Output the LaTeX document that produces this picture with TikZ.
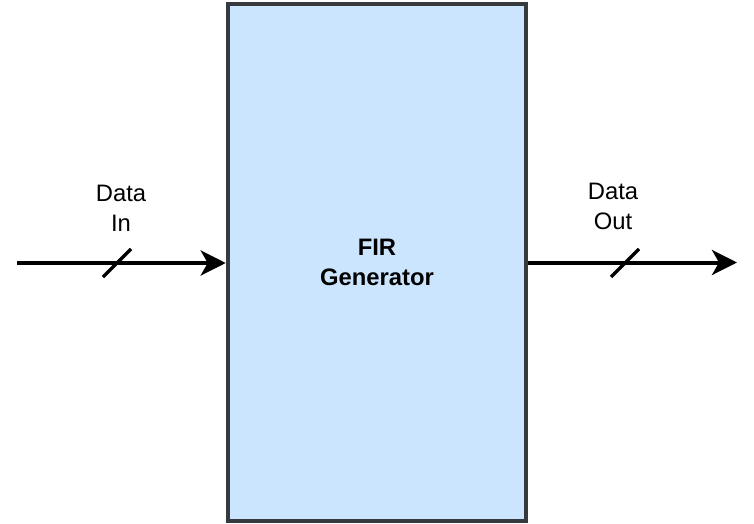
\documentclass[tikz,border=0pt]{standalone}
\usepackage{fontspec}
\setmainfont{Liberation Sans}
\usepackage{xcolor}
\usetikzlibrary{arrows.meta}
\definecolor{boxfill}{HTML}{CCE5FF}
\definecolor{boxline}{HTML}{36393D}
\tikzset{
  block/.style={draw=boxline, fill=boxfill, line width=4pt, minimum width=298.5pt, minimum height=517pt, inner sep=0pt, align=center, font=\fontsize{23.8}{30}\selectfont\bfseries},
  bus/.style={line width=4pt, -{Stealth[length=25pt, width=25pt, inset=7pt]}},
  slash/.style={line width=3.5pt},
  label/.style={align=center, font=\fontsize{23.8}{30}\selectfont}
}
\begin{document}
\begin{tikzpicture}[x=1pt, y=-1pt]
\useasboundingbox (0,0) rectangle (754,524);
\node[block] (FIR) at (377,262.5) {FIR\\Generator};
\coordinate (DataInStart) at (17,263);
\coordinate (DataOutEnd) at (737,262.5);
\draw[bus] (DataInStart) -- (FIR.west |- DataInStart);
\draw[bus] (FIR.east |- DataOutEnd) -- (DataOutEnd);
\draw[slash] (103,277) -- (131,249);
\draw[slash] (611,277) -- (639,249);
\node[label] (DataIn) at (121,208) {Data\\In};
\node[label] (DataOut) at (613,206) {Data\\Out};
\end{tikzpicture}
\end{document}
